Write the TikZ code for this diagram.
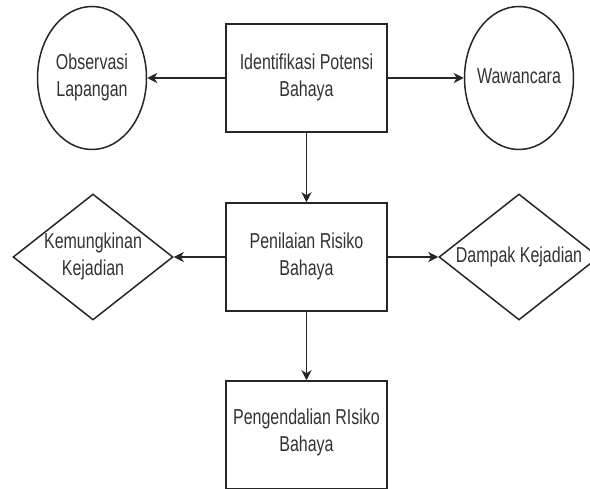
\documentclass[tikz,border=0pt]{standalone}
\usepackage{fontspec}
\setmainfont{Liberation Sans}
\usepackage{graphicx}
\usetikzlibrary{shapes.geometric,arrows.meta}
\definecolor{ln}{HTML}{262626}
\definecolor{tx}{HTML}{333333}
\newcommand{\ltxt}[1]{\scalebox{1}[1.35]{\begin{tabular}{@{}c@{}}#1\end{tabular}}}
\tikzset{
  shp/.style={draw=ln, line width=1.5pt, inner sep=0pt, fill=white},
  boxs/.style={shp, rectangle, minimum width=161pt, minimum height=108pt},
  ell/.style={shp, ellipse, minimum width=109pt, minimum height=143pt},
  dia/.style={shp, diamond, minimum width=160pt, minimum height=126pt},
  lbl/.style={text=tx, inner sep=0pt, font=\fontsize{16}{20}\selectfont},
  arr/.style={draw=ln, line width=1.7pt, -{Stealth[length=10pt,width=10pt,inset=3pt]}}
}
\begin{document}
\begin{tikzpicture}[x=1pt,y=-1pt]
\useasboundingbox (0,0) rectangle (590,489);
\fill[white] (0,0) rectangle (590,489);
% shapes
\node[ell] (obs) at (92,78) {};
\node[boxs] (idn) at (306.5,78) {};
\node[ell] (waw) at (519,78) {};
\node[boxs] (pen) at (306.5,257) {};
\node[dia] (kem) at (93,257) {};
\node[dia] (dam) at (519,257) {};
\node[boxs] (pgd) at (306.5,435) {};
% texts
\node[lbl] (tobs) at (obs) {\ltxt{Observasi\\Lapangan}};
\node[lbl] (tidn) at (idn) {\ltxt{Identifikasi Potensi\\Bahaya}};
\node[lbl] (twaw) at (waw) {\ltxt{Wawancara}};
\node[lbl] (tpen) at (pen) {\ltxt{Penilaian Risiko\\Bahaya}};
\node[lbl] (tkem) at (kem) {\ltxt{Kemungkinan\\Kejadian}};
\node[lbl] (tdam) at (dam) {\ltxt{Dampak Kejadian}};
\node[lbl] (tpgd) at ([yshift=2pt]pgd.center) {\ltxt{Pengendalian RIsiko\\Bahaya}};
% connectors
\draw[arr] (idn.west) -- (obs.east);
\draw[arr] (idn.east) -- (waw.west);
\draw[arr] (idn.south) -- (pen.north);
\draw[arr] (pen.west) -- (kem.east);
\draw[arr] (pen.east) -- (dam.west);
\draw[arr] (pen.south) -- (pgd.north);
\end{tikzpicture}
\end{document}
